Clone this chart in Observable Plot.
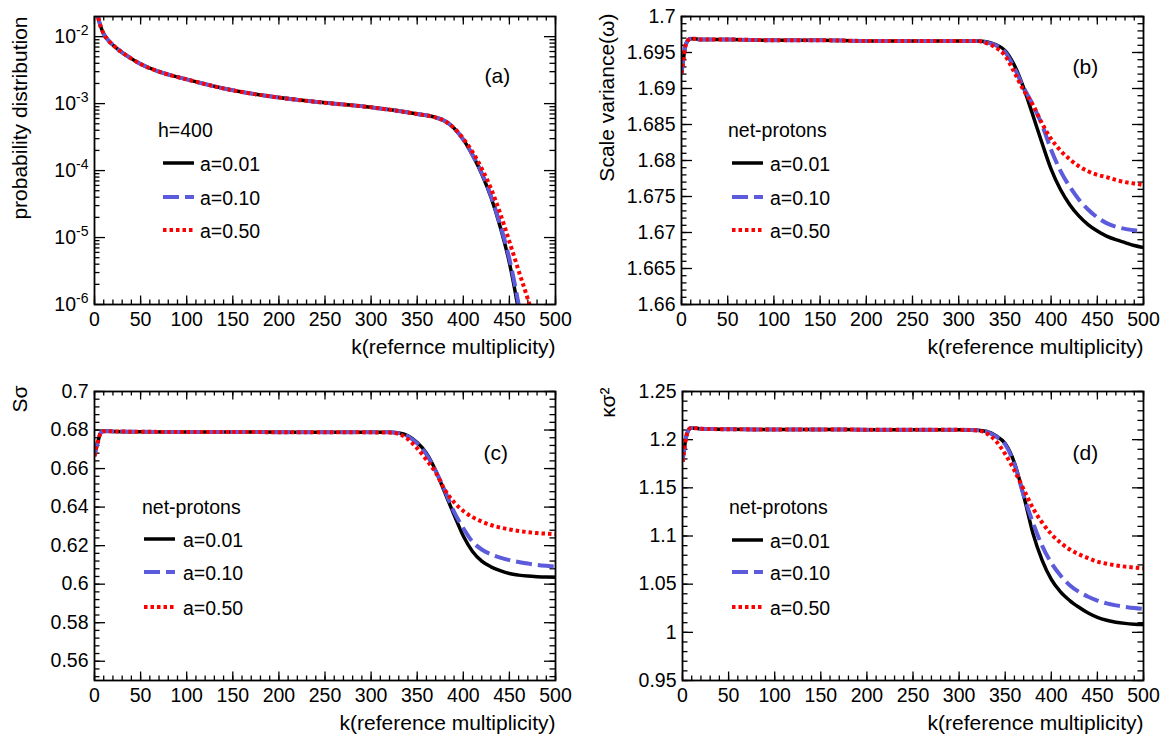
<!DOCTYPE html>
<html><head><meta charset="utf-8">
<script src="https://cdn.jsdelivr.net/npm/d3@7"></script>
<script src="https://cdn.jsdelivr.net/npm/@observablehq/plot@0.6"></script>
<style>
body{margin:0;background:#fff;}
#wrap{position:relative;width:1165px;height:736px;overflow:hidden;background:#fff;}
#wrap svg{position:absolute;}
</style></head><body><div id="wrap"></div>
<script>
// ---------- DATA ----------
const seriesNames = ["a=0.01", "a=0.10", "a=0.50"];

// (a) probability distribution, h=400
const kA = [3, 4, 5, 7, 10, 15, 20, 30, 40, 50, 70, 100, 150, 200, 250, 300, 350, 370, 380, 390, 400, 410, 420, 430, 440, 450, 460, 470, 480];
const probA001 = [0.024, 0.0195, 0.0170, 0.0138, 0.0110, 0.0088, 0.0075, 0.0058, 0.0047, 0.0039, 0.0030, 0.0023, 0.00158, 0.00123, 0.00103, 0.00088, 0.00070, 0.00062, 0.00055, 0.00043, 0.00029, 0.00017, 8.9e-5, 4.0e-5, 1.45e-5, 4.2e-6, 7.9e-7, 1.0e-7, 1.0e-8];
const probA010 = [0.024, 0.0195, 0.0170, 0.0138, 0.0110, 0.0088, 0.0075, 0.0058, 0.0047, 0.0039, 0.0030, 0.0023, 0.00158, 0.00123, 0.00103, 0.00088, 0.00070, 0.00062, 0.00055, 0.00043, 0.00029, 0.000172, 9.2e-5, 4.2e-5, 1.55e-5, 4.8e-6, 1.0e-6, 1.4e-7, 2.0e-8];
const probA050 = [0.024, 0.0195, 0.0170, 0.0138, 0.0110, 0.0088, 0.0075, 0.0058, 0.0047, 0.0039, 0.0030, 0.0023, 0.00158, 0.00123, 0.00103, 0.00088, 0.00070, 0.00062, 0.00055, 0.00043, 0.00030, 0.00019, 1.07e-4, 5.4e-5, 2.3e-5, 8.7e-6, 3.2e-6, 1.2e-6, 4.0e-7];

// (b),(c),(d) shared k grid
const kGrid = [0, 2, 4, 6, 8, 10, 15, 20, 50, 100, 150, 200, 250, 300, 320, 330, 340, 350, 360, 370, 380, 390, 400, 410, 420, 430, 440, 450, 460, 470, 480, 490, 500];

// (b) scaled variance omega
const omega001 = [1.6921, 1.6940, 1.6958, 1.6965, 1.6968, 1.6969, 1.6969, 1.6968, 1.6968, 1.6967, 1.6967, 1.6966, 1.6966, 1.6966, 1.6966, 1.6965, 1.6961, 1.6953, 1.6933, 1.6902, 1.6864, 1.6825, 1.6788, 1.6760, 1.6739, 1.6723, 1.6711, 1.6702, 1.6695, 1.6690, 1.6686, 1.6682, 1.6679];
const omega010 = [1.6921, 1.6940, 1.6958, 1.6965, 1.6968, 1.6969, 1.6969, 1.6968, 1.6968, 1.6967, 1.6967, 1.6966, 1.6966, 1.6966, 1.6966, 1.6964, 1.6960, 1.6951, 1.6929, 1.6902, 1.6878, 1.6850, 1.6815, 1.6786, 1.6764, 1.6746, 1.6732, 1.6721, 1.6713, 1.6708, 1.6705, 1.6703, 1.6701];
const omega050 = [1.6921, 1.6940, 1.6958, 1.6965, 1.6968, 1.6969, 1.6969, 1.6968, 1.6968, 1.6967, 1.6967, 1.6966, 1.6966, 1.6966, 1.6966, 1.6963, 1.6957, 1.6946, 1.6923, 1.6898, 1.6878, 1.6852, 1.6830, 1.6814, 1.6802, 1.6792, 1.6785, 1.6780, 1.6777, 1.6773, 1.6770, 1.6768, 1.6766];

// (c) S sigma
const ssig001 = [0.6665, 0.6710, 0.6745, 0.6778, 0.6790, 0.6794, 0.6794, 0.6793, 0.6791, 0.6790, 0.6790, 0.6789, 0.6789, 0.6788, 0.6788, 0.6785, 0.6770, 0.6735, 0.6680, 0.6590, 0.6475, 0.6360, 0.6250, 0.6170, 0.6120, 0.6090, 0.6070, 0.6055, 0.6047, 0.6042, 0.6039, 0.6037, 0.6036];
const ssig010 = [0.6665, 0.6710, 0.6745, 0.6778, 0.6790, 0.6794, 0.6794, 0.6793, 0.6791, 0.6790, 0.6790, 0.6789, 0.6789, 0.6788, 0.6788, 0.6784, 0.6767, 0.6731, 0.6673, 0.6588, 0.6485, 0.6375, 0.6290, 0.6220, 0.6180, 0.6155, 0.6138, 0.6125, 0.6115, 0.6107, 0.6100, 0.6095, 0.6091];
const ssig050 = [0.6665, 0.6710, 0.6745, 0.6778, 0.6790, 0.6794, 0.6794, 0.6793, 0.6791, 0.6790, 0.6790, 0.6789, 0.6789, 0.6788, 0.6787, 0.6780, 0.6752, 0.6705, 0.6645, 0.6580, 0.6490, 0.6425, 0.6380, 0.6348, 0.6325, 0.6307, 0.6294, 0.6284, 0.6276, 0.6270, 0.6265, 0.6262, 0.6259];

// (d) kappa sigma^2
const ksig001 = [1.1770, 1.1910, 1.2030, 1.2090, 1.2118, 1.2122, 1.2118, 1.2113, 1.2108, 1.2106, 1.2105, 1.2104, 1.2103, 1.2102, 1.2099, 1.2085, 1.2040, 1.1960, 1.1760, 1.1420, 1.1030, 1.0750, 1.0550, 1.0420, 1.0330, 1.0260, 1.0200, 1.0155, 1.0125, 1.0105, 1.0093, 1.0085, 1.0080];
const ksig010 = [1.1770, 1.1910, 1.2030, 1.2090, 1.2118, 1.2122, 1.2118, 1.2113, 1.2108, 1.2106, 1.2105, 1.2104, 1.2103, 1.2102, 1.2099, 1.2082, 1.2033, 1.1950, 1.1745, 1.1420, 1.1140, 1.0900, 1.0720, 1.0590, 1.0490, 1.0420, 1.0370, 1.0330, 1.0300, 1.0280, 1.0265, 1.0252, 1.0242];
const ksig050 = [1.1770, 1.1910, 1.2030, 1.2090, 1.2118, 1.2122, 1.2118, 1.2113, 1.2108, 1.2106, 1.2105, 1.2104, 1.2103, 1.2102, 1.2095, 1.2065, 1.1985, 1.1850, 1.1680, 1.1485, 1.1290, 1.1140, 1.1020, 1.0930, 1.0860, 1.0810, 1.0770, 1.0734, 1.0712, 1.0695, 1.0682, 1.0672, 1.0665];

// tick labels
const xMajorTicks = [0, 50, 100, 150, 200, 250, 300, 350, 400, 450, 500];
const xMinorTicks = d3.range(0, 501, 10);
const yTicksA = [1e-6, 1e-5, 1e-4, 1e-3, 1e-2];
const yMinorA = [-6, -5, -4, -3].flatMap(e => [2, 3, 4, 5, 6, 7, 8, 9].map(m => m * Math.pow(10, e)));
const yTicksB = [1.66, 1.665, 1.67, 1.675, 1.68, 1.685, 1.69, 1.695, 1.7];
const yMinorB = d3.range(1660, 1701, 1).map(d => d / 1000);
const yTicksC = [0.56, 0.58, 0.6, 0.62, 0.64, 0.66, 0.68, 0.7];
const yMinorC = d3.range(552, 701, 4).map(d => d / 1000);
const yTicksD = [0.95, 1, 1.05, 1.1, 1.15, 1.2, 1.25];
const yMinorD = d3.range(95, 126, 1).map(d => d / 100);

// ---------- STYLE ----------
const FONT = '"Liberation Sans", Arial, Helvetica, sans-serif';
const lineStyles = [
  {color: "#000000", w: 3.5, dash: null},
  {color: "#5b5bdb", w: 4, dash: "16,6"},
  {color: "#ff0000", w: 4, dash: "3.5,3"}
];
const wrap = document.getElementById("wrap");

function rows(ks, vs) { return ks.map((k, i) => ({k, v: vs[i]})); }

function panel(cfg) {
  const {left, top, width = 583, height = 368, mL, mR, mT, mB, y, yMajor, yMinor, yFmt, series, ks, xTitle, yTitle, yTitleDy, tag, tagDx, tagDy} = cfg;
  const iw = width - mL - mR, ih = height - mT - mB;
  const tk = o => ({stroke: "#000", strokeWidth: 1.3, ...o});
  const marks = [
    Plot.tickX(xMinorTicks, tk({x: d => d, insetTop: ih - 4.5})),
    Plot.tickX(xMinorTicks, tk({x: d => d, insetBottom: ih - 4.5})),
    Plot.tickX(xMajorTicks, tk({x: d => d, insetTop: ih - 8.5})),
    Plot.tickX(xMajorTicks, tk({x: d => d, insetBottom: ih - 8.5})),
    Plot.tickY(yMinor, tk({y: d => d, insetRight: iw - 5.5})),
    Plot.tickY(yMinor, tk({y: d => d, insetLeft: iw - 5.5})),
    Plot.tickY(yMajor, tk({y: d => d, insetRight: iw - 11})),
    Plot.tickY(yMajor, tk({y: d => d, insetLeft: iw - 11})),
    ...series.map((vals, i) => Plot.line(rows(ks, vals), {
      x: "k", y: "v", stroke: lineStyles[i].color, strokeWidth: lineStyles[i].w,
      strokeDasharray: lineStyles[i].dash, strokeLinecap: "butt", curve: "monotone-x", clip: true
    })),
    Plot.frame({stroke: "#000", strokeWidth: 1.8}),
    Plot.axisX({ticks: xMajorTicks, tickSize: 0, tickPadding: 8, fontSize: 19.5, label: null, tickFormat: d => String(d)}),
    Plot.axisY({ticks: yMajor, tickSize: 0, tickPadding: 6, fontSize: 19.5, label: null, tickFormat: yFmt}),
    Plot.text([xTitle], {text: d => d, frameAnchor: "bottom-right", textAnchor: "end", lineAnchor: "middle", dy: 43, fontSize: 21}),
    Plot.text([yTitle], {text: d => d, frameAnchor: "top-left", textAnchor: "end", lineAnchor: "middle", rotate: -90, dx: -74, dy: yTitleDy, fontSize: 21}),
    Plot.text([tag], {text: d => d, frameAnchor: "top-left", lineAnchor: "middle", dx: tagDx, dy: tagDy, fontSize: 21})
  ];
  const svg = Plot.plot({
    width, height, marginLeft: mL, marginRight: mR, marginTop: mT, marginBottom: mB,
    style: {fontFamily: FONT, background: "transparent", color: "#000", overflow: "visible"},
    x: {domain: [0, 500]}, y, marks
  });
  svg.style.left = left + "px";
  svg.style.top = top + "px";
  // superscript exponents for log labels
  d3.select(svg).selectAll("text").each(function () {
    const m = this.textContent.match(/^10\^(-?\d+)$/);
    if (m) {
      const t = d3.select(this);
      t.text("10");
      t.append("tspan").attr("dy", "-0.55em").attr("font-size", "0.72em").text(m[1]);
    }
  });
  wrap.appendChild(svg);
}

const fmtPlain = d => String(d);

panel({left: 0, top: 0, mL: 94, mR: 28, mT: 16, mB: 64,
  y: {type: "log", domain: [1e-6, 0.02]}, yMajor: yTicksA, yMinor: yMinorA,
  yFmt: d => "10^" + Math.round(Math.log10(d)),
  ks: kA, series: [probA001, probA010, probA050],
  xTitle: "k(refernce multiplicity)", yTitle: "probability distribution", yTitleDy: 0,
  tag: "(a)", tagDx: 390, tagDy: 60});

panel({left: 582, top: 0, mL: 99, mR: 22, mT: 16, mB: 64,
  y: {domain: [1.66, 1.7]}, yMajor: yTicksB, yMinor: yMinorB, yFmt: fmtPlain,
  ks: kGrid, series: [omega001, omega010, omega050],
  xTitle: "k(reference multiplicity)", yTitle: "Scale variance(ω)", yTitleDy: -3,
  tag: "(b)", tagDx: 391, tagDy: 51});

panel({left: 0, top: 368, mL: 94, mR: 28, mT: 23, mB: 56,
  y: {domain: [0.55, 0.7]}, yMajor: yTicksC, yMinor: yMinorC, yFmt: fmtPlain,
  ks: kGrid, series: [ssig001, ssig010, ssig050],
  xTitle: "k(reference multiplicity)", yTitle: "Sσ", yTitleDy: -6,
  tag: "(c)", tagDx: 389, tagDy: 62});

panel({left: 582, top: 368, mL: 100, mR: 22, mT: 23, mB: 56,
  y: {domain: [0.95, 1.25]}, yMajor: yTicksD, yMinor: yMinorD, yFmt: fmtPlain,
  ks: kGrid, series: [ksig001, ksig010, ksig050],
  xTitle: "k(reference multiplicity)", yTitle: "κσ²", yTitleDy: -4,
  tag: "(d)", tagDx: 390, tagDy: 62});

// ---------- LEGENDS (layout only) ----------
const legends = [
  {header: "h=400", hx: 158, hy: 130, x1: 163, x2: 194, tx: 200, ys: [163, 197, 230]},
  {header: "net-protons", hx: 728, hy: 130, x1: 732, x2: 763, tx: 770, ys: [163, 197, 230]},
  {header: "net-protons", hx: 142, hy: 507, x1: 144, x2: 175, tx: 183, ys: [539, 572, 607]},
  {header: "net-protons", hx: 729, hy: 507, x1: 732, x2: 763, tx: 770, ys: [540, 572, 607]}
];
const lg = d3.select(wrap).append("svg").attr("width", 1165).attr("height", 736)
  .style("left", "0px").style("top", "0px").style("pointer-events", "none")
  .attr("font-family", FONT);
legends.forEach(L => {
  lg.append("text").attr("x", L.hx).attr("y", L.hy).attr("dy", "0.35em").attr("font-size", 19.5).text(L.header);
  L.ys.forEach((yy, i) => {
    const s = lineStyles[i];
    lg.append("line").attr("x1", L.x1).attr("x2", L.x2).attr("y1", yy).attr("y2", yy)
      .attr("stroke", s.color).attr("stroke-width", s.w).attr("stroke-dasharray", s.dash || null);
    lg.append("text").attr("x", L.tx).attr("y", yy + 1).attr("dy", "0.35em").attr("font-size", 19.5).text(seriesNames[i]);
  });
});
</script>
</body></html>
